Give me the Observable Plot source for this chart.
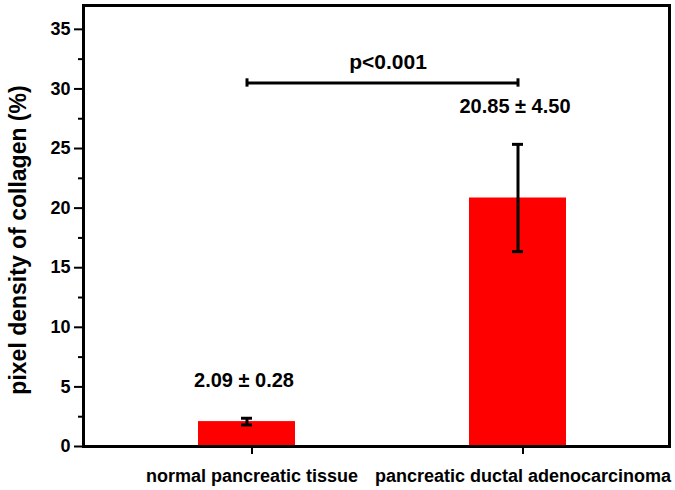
<!DOCTYPE html>
<html><head><meta charset="utf-8">
<script src="https://cdn.jsdelivr.net/npm/d3@7"></script>
<script src="https://cdn.jsdelivr.net/npm/@observablehq/plot@0.6"></script>
<style>
body{margin:0;background:#fff;}
svg{font-family:"Liberation Sans",Arial,sans-serif;font-weight:bold;}
</style>
</head><body>
<div id="chart"></div>
<script>
const categories = ["normal pancreatic tissue", "pancreatic ductal adenocarcinoma"];
const means = [2.09, 20.85];
const sds = [0.28, 4.50];
const yTicks = [0, 5, 10, 15, 20, 25, 30, 35];
const minorTicks = [2.5, 7.5, 12.5, 17.5, 22.5, 27.5, 32.5];
const pValueText = "p<0.001";
const bracketLevel = 30.5;
const yLabel = "pixel density of collagen (%)";

const data = categories.map((c, i) => ({cat: c, mean: means[i], sd: sds[i],
  label: `${means[i].toFixed(2)} ± ${sds[i].toFixed(2)}`}));
const bracket = [{x1: categories[0], x2: categories[1], y: bracketLevel, text: pValueText}];
const bracketEnds = [categories[0], categories[1]];

const font = '"Liberation Sans", Arial, sans-serif';
const chart = Plot.plot({
  width: 675, height: 490,
  marginLeft: 83, marginRight: 6, marginTop: 5, marginBottom: 44,
  style: {fontFamily: font, fontWeight: "bold", background: "#fff", color: "black"},
  x: {type: "band", domain: categories, range: [198, 566], paddingInner: 0.643, paddingOuter: 0},
  y: {domain: [0, 37]},
  marks: [
    Plot.barY(data, {x: "cat", y: "mean", fill: "#ff0000"}),
    Plot.ruleX(data, {x: "cat", y1: d => d.mean - d.sd, y2: d => d.mean + d.sd, stroke: "black", strokeWidth: 3}),
    Plot.tickY(data, {x: "cat", y: d => d.mean - d.sd, stroke: "black", strokeWidth: 3, inset: 43}),
    Plot.tickY(data, {x: "cat", y: d => d.mean + d.sd, stroke: "black", strokeWidth: 3, inset: 43}),
    Plot.text(data, {x: "cat", y: d => d.mean + d.sd, text: "label", textAnchor: "middle", lineAnchor: "bottom", dy: -31, dx: -3, fontSize: 20, fontWeight: "bold", fill: "black"}),
    // significance bracket
    Plot.link(bracket, {x1: "x1", x2: "x2", y1: "y", y2: "y", stroke: "black", strokeWidth: 3}),
    Plot.ruleX(bracketEnds, {x: d => d, y1: bracketLevel - 0.35, y2: bracketLevel + 0.35, stroke: "black", strokeWidth: 3}),
    Plot.text(bracket, {x: "x1", y: "y", text: "text", textAnchor: "middle", lineAnchor: "bottom", dx: 141, dy: -14, fontSize: 21, fontWeight: "bold", fill: "black"}),
    Plot.frame({stroke: "black", strokeWidth: 3}),
    Plot.axisY({ticks: minorTicks, tickSize: 5, tickFormat: () => "", strokeWidth: 2}),
    Plot.axisY({ticks: yTicks, tickSize: 9, tickPadding: 4, fontSize: 18, fontWeight: "bold", strokeWidth: 2,
      label: null}),
    Plot.axisX({tickSize: 8, tickPadding: 15, dx: 5, fontSize: 18, fontWeight: "bold", strokeWidth: 2, label: null}),
    Plot.text([yLabel], {frameAnchor: "left", textAnchor: "middle", lineAnchor: "middle", dx: -65, dy: 14, rotate: -90, text: d => d, fontSize: 23, fontWeight: "bold", fill: "black"})
  ]
});
document.getElementById("chart").appendChild(chart);
</script>
</body></html>
